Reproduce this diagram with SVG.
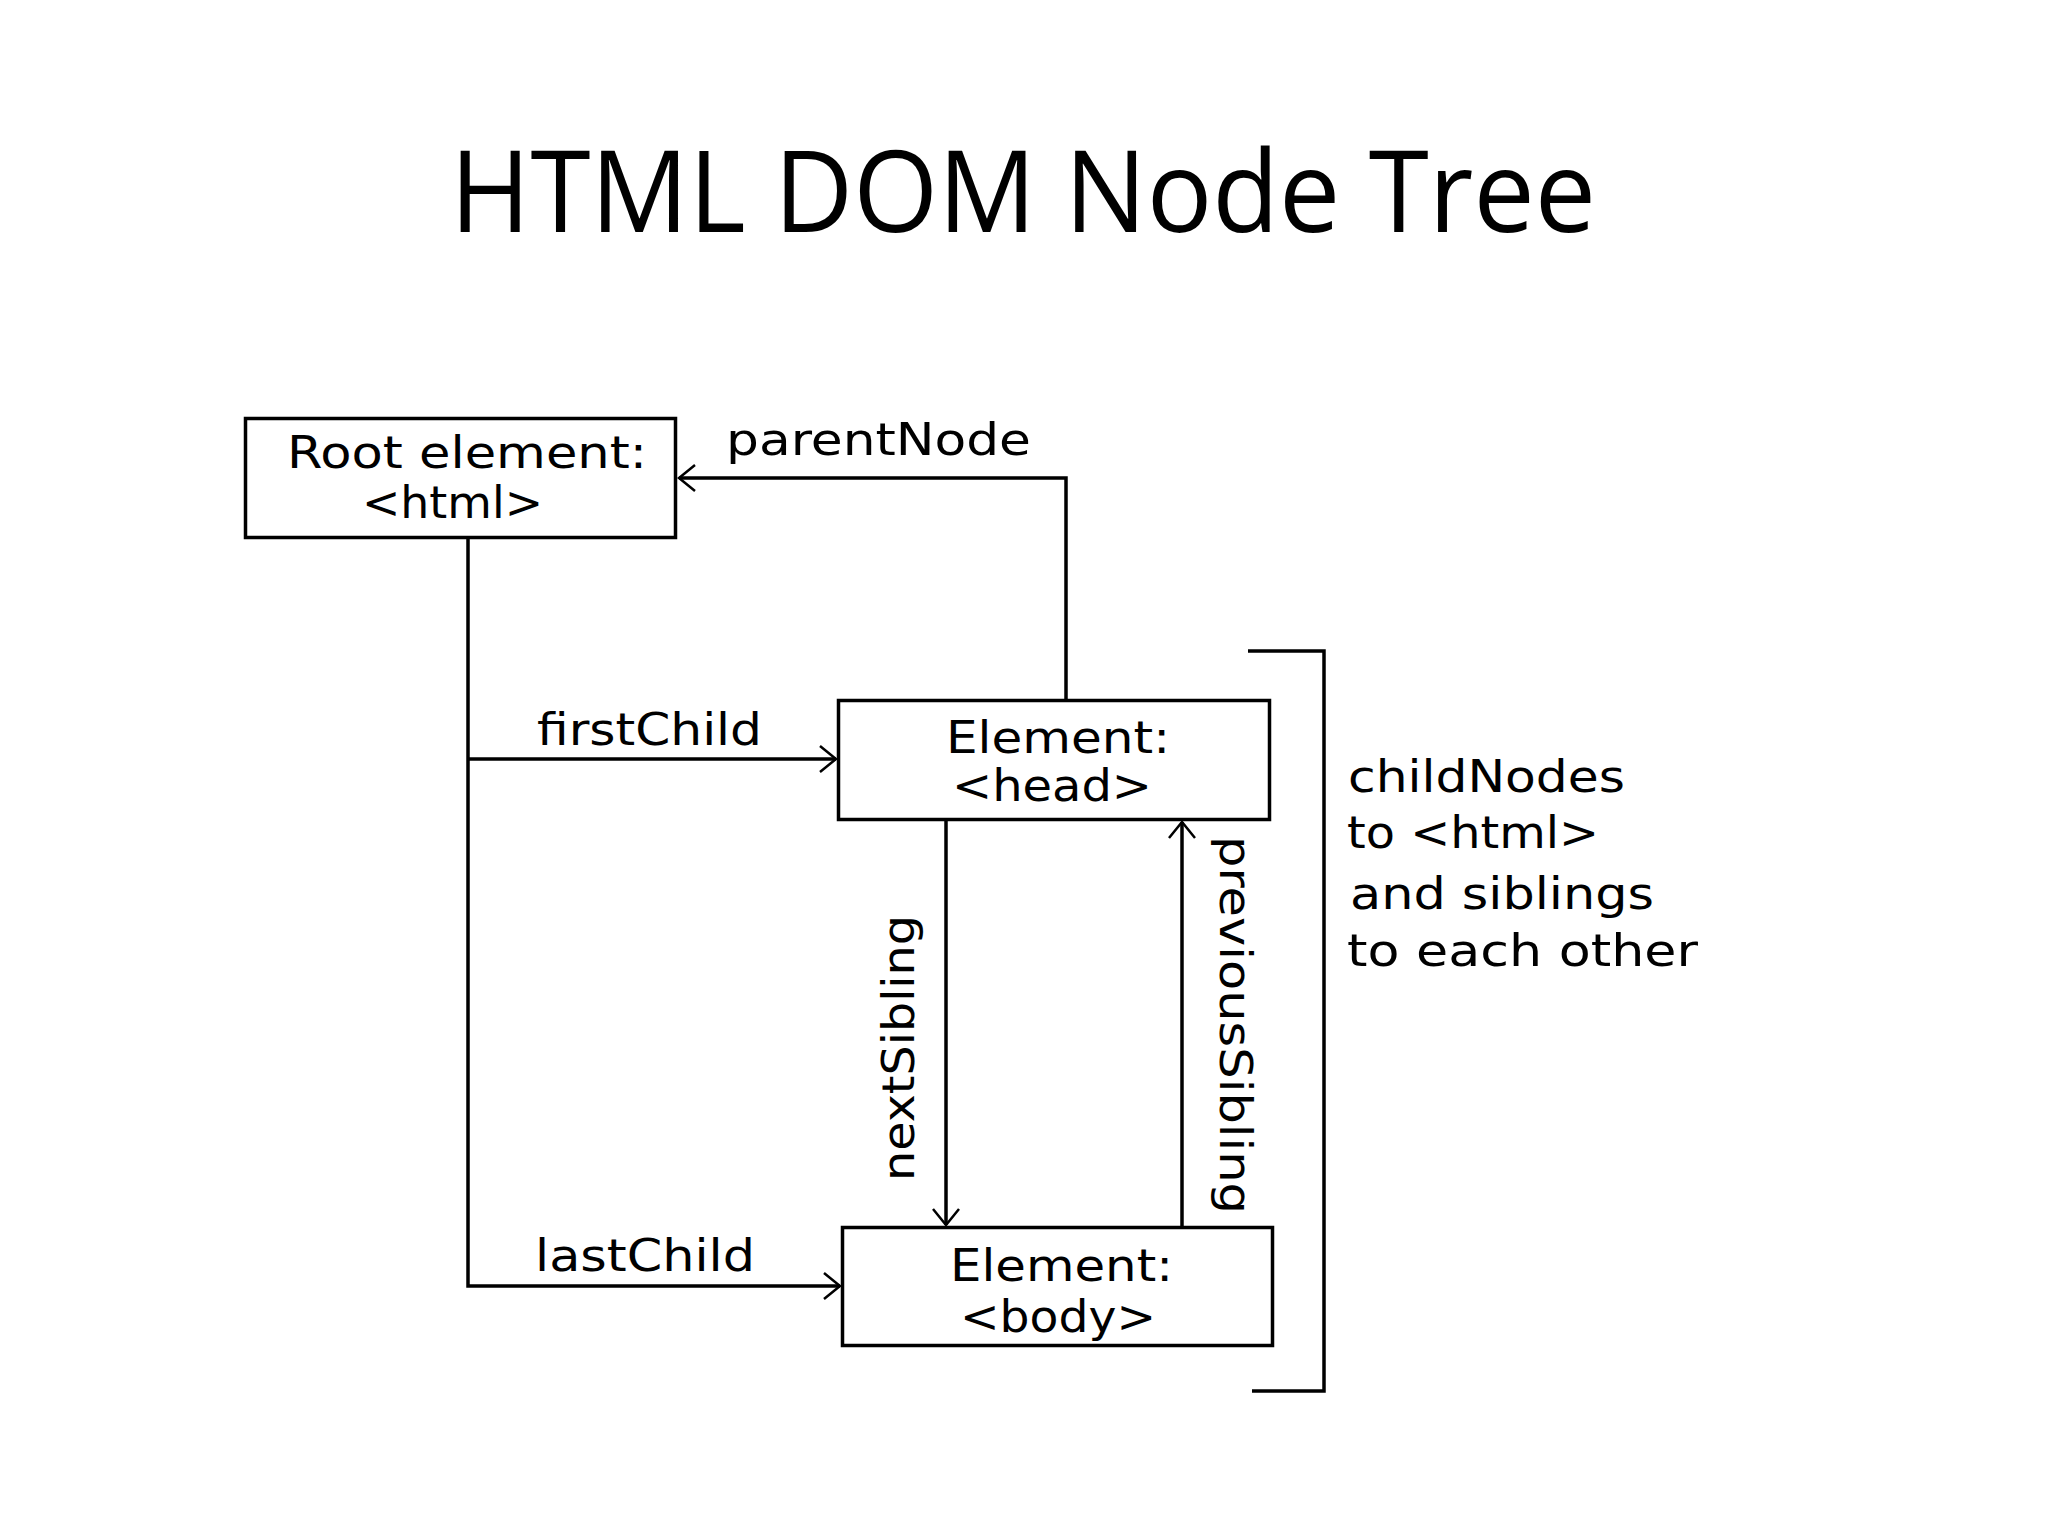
<svg xmlns="http://www.w3.org/2000/svg" width="2048" height="1536" viewBox="0 0 2048 1536">
<style>
.box{fill:#fff;stroke:#000;stroke-width:3.5}
.ln{fill:none;stroke:#000;stroke-width:3.5}
.t{font-family:"DejaVu Sans","Liberation Sans",sans-serif;font-size:45px;fill:#000}
.title{font-family:"Open Sans","Noto Sans",sans-serif;font-size:114px;fill:#000}
</style>
<defs>
<marker id="arr" markerUnits="userSpaceOnUse" viewBox="-20 -20 40 40" markerWidth="40" markerHeight="40" refX="0" refY="0" orient="auto">
<path d="M-16,-13 L0,0 L-16,13" fill="none" stroke="#000" stroke-width="2.5"/>
</marker>
</defs>
<rect width="2048" height="1536" fill="#fff"/>
<text class="title" x="450" y="232" textLength="1146" lengthAdjust="spacingAndGlyphs">HTML DOM Node Tree</text>
<g id="connectors">
<path class="ln" d="M1066,699 V478 H679" marker-end="url(#arr)"/>
<path class="ln" d="M468,539 V1286 H840" marker-end="url(#arr)"/>
<path class="ln" d="M468,759 H836" marker-end="url(#arr)"/>
<path class="ln" d="M946,820 V1225" marker-end="url(#arr)"/>
<path class="ln" d="M1182,1226 V822" marker-end="url(#arr)"/>
<text class="t" x="726" y="455" textLength="305" lengthAdjust="spacingAndGlyphs">parentNode</text>
<text class="t" x="537" y="745" textLength="225" lengthAdjust="spacingAndGlyphs">firstChild</text>
<text class="t" x="535" y="1271" textLength="220" lengthAdjust="spacingAndGlyphs">lastChild</text>
<text class="t" transform="translate(914,1181) rotate(-90)" textLength="266" lengthAdjust="spacingAndGlyphs">nextSibling</text>
<text class="t" transform="translate(1220,836) rotate(90)" textLength="378" lengthAdjust="spacingAndGlyphs">previousSibling</text>
</g>
<g id="root">
<rect class="box" x="245.5" y="418.5" width="430" height="119"/>
<text class="t" x="287" y="468" textLength="360" lengthAdjust="spacingAndGlyphs">Root element:</text>
<text class="t" x="362" y="518" textLength="181" lengthAdjust="spacingAndGlyphs">&lt;html&gt;</text>
</g>
<g id="head">
<rect class="box" x="838.5" y="700.5" width="431" height="119"/>
<text class="t" x="946" y="753" textLength="224" lengthAdjust="spacingAndGlyphs">Element:</text>
<text class="t" x="952" y="801" textLength="200" lengthAdjust="spacingAndGlyphs">&lt;head&gt;</text>
</g>
<g id="body">
<rect class="box" x="842.5" y="1227.5" width="430" height="118"/>
<text class="t" x="950" y="1281" textLength="223" lengthAdjust="spacingAndGlyphs">Element:</text>
<text class="t" x="960" y="1332" textLength="196" lengthAdjust="spacingAndGlyphs">&lt;body&gt;</text>
</g>
<g id="childnodes">
<path class="ln" d="M1248,651 H1324 V1391 H1252"/>
<text class="t" x="1348" y="792" textLength="277" lengthAdjust="spacingAndGlyphs">childNodes</text>
<text class="t" x="1347" y="848" textLength="252" lengthAdjust="spacingAndGlyphs">to &lt;html&gt;</text>
<text class="t" x="1350" y="909" textLength="304" lengthAdjust="spacingAndGlyphs">and siblings</text>
<text class="t" x="1347" y="966" textLength="351" lengthAdjust="spacingAndGlyphs">to each other</text>
</g>
</svg>
